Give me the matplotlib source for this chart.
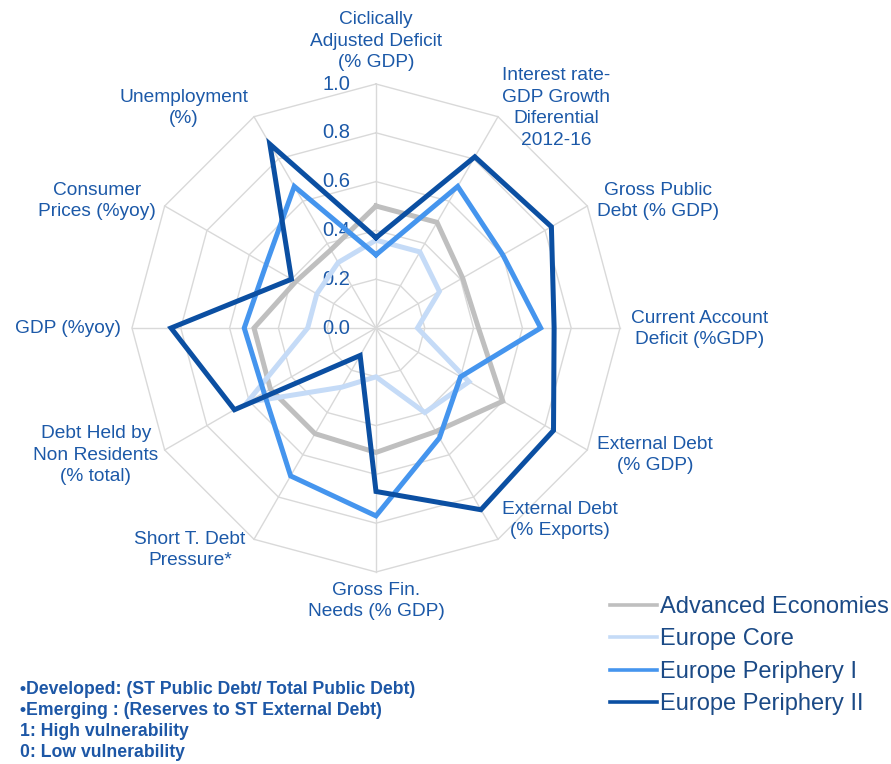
import matplotlib
matplotlib.use('Agg')
import matplotlib.pyplot as plt
import numpy as np
from matplotlib.lines import Line2D

plt.rcParams['font.family'] = ['Liberation Sans', 'DejaVu Sans']

# ---- data (clockwise from top) ----
categories = ['Ciclically\nAdjusted Deficit\n(% GDP)',
              'Interest rate-\nGDP Growth\nDiferential\n2012-16',
              'Gross Public\nDebt (% GDP)',
              'Current Account\nDeficit (%GDP)',
              'External Debt\n(% GDP)',
              'External Debt\n(% Exports)',
              'Gross Fin.\nNeeds (% GDP)',
              'Short T. Debt\nPressure*',
              'Debt Held by\nNon Residents\n(% total)',
              'GDP (%yoy)',
              'Consumer\nPrices (%yoy)',
              'Unemployment\n(%)']
advanced = [0.50, 0.50, 0.41, 0.42, 0.60, 0.49, 0.51, 0.50, 0.50, 0.50, 0.38, 0.37]
core = [0.36, 0.36, 0.30, 0.17, 0.44, 0.40, 0.20, 0.28, 0.61, 0.28, 0.28, 0.31]
periphery1 = [0.30, 0.67, 0.60, 0.675, 0.40, 0.52, 0.77, 0.70, 0.53, 0.54, 0.52, 0.67]
periphery2 = [0.37, 0.81, 0.83, 0.73, 0.84, 0.86, 0.67, 0.13, 0.67, 0.84, 0.40, 0.87]
series_names = ['Advanced Economies', 'Europe Core', 'Europe Periphery I', 'Europe Periphery II']
ticks = [0.0, 0.2, 0.4, 0.6, 0.8, 1.0]

colors = ['#BFBFBF', '#C5DBF7', '#4595EE', '#0B4FA2']
label_col = '#1C59A8'
legend_col = '#1B4A86'
grid_col = '#D9D9D9'

W, H = 891, 764
fig = plt.figure(figsize=(W / 100, H / 100), dpi=100)


def px(x, y):
    return x / W, 1 - y / H


cx, cy, R = 376, 328, 244
ax = fig.add_axes([(cx - R) / W, 1 - (cy + R) / H, 2 * R / W, 2 * R / H], projection='polar')
ax.set_theta_zero_location('N')
ax.set_theta_direction(-1)
ax.set_ylim(0, 1)
ax.grid(False)
ax.set_xticks([])
ax.set_yticks([])
ax.spines['polar'].set_visible(False)
ax.patch.set_alpha(0)

n = len(categories)
angles = np.arange(n) * 2 * np.pi / n
closed = np.append(angles, angles[0])

# polygon grid + spokes
for t in ticks[1:]:
    ax.plot(closed, [t] * (n + 1), color=grid_col, lw=1.0, clip_on=False, zorder=1)
for a in angles:
    ax.plot([a, a], [0, 1], color=grid_col, lw=1.0, clip_on=False, zorder=1)

# radial tick labels
for t in ticks:
    ax.annotate('%.1f' % t, xy=(0, t), xytext=(-18.5, 0), textcoords='offset points',
                ha='right', va='center', fontsize=14.5, color=label_col, zorder=2)

# series
for vals, c, name in zip([advanced, core, periphery1, periphery2], colors, series_names):
    ax.plot(closed, list(vals) + [vals[0]], color=c, lw=3.6, solid_joinstyle='miter',
            label=name, zorder=3, clip_on=False)

# category labels
label_pos = [(376, 41), (556, 108), (658, 201), (700, 329), (655, 455), (560, 520),
             (376, 601), (190, 550), (96, 455), (68, 329), (97, 201), (184, 108)]
for lab, (x, y) in zip(categories, label_pos):
    fig.text(*px(x, y), lab, ha='center', va='center', multialignment='center',
             fontsize=13.8, color=label_col, linespacing=1.35)

# legend
handles = [Line2D([], [], color=c, lw=2.6) for c in colors]
leg = fig.legend(handles, series_names, loc='upper left', bbox_to_anchor=px(610, 596),
                 frameon=False, fontsize=17, handlelength=2.0, handletextpad=0.1,
                 labelspacing=0.44, borderaxespad=0, borderpad=0)
for t in leg.get_texts():
    t.set_color(legend_col)

# footnote
notes = ['•Developed: (ST Public Debt/ Total Public Debt)',
         '•Emerging : (Reserves to ST External Debt)',
         '1: High vulnerability',
         '0: Low vulnerability']
for i, s in enumerate(notes):
    fig.text(*px(20, 690 + i * 20.7), s, ha='left', va='center', fontsize=12.7,
             fontweight='bold', color='#1D57A6')

fig.savefig('out.png', dpi=100)
